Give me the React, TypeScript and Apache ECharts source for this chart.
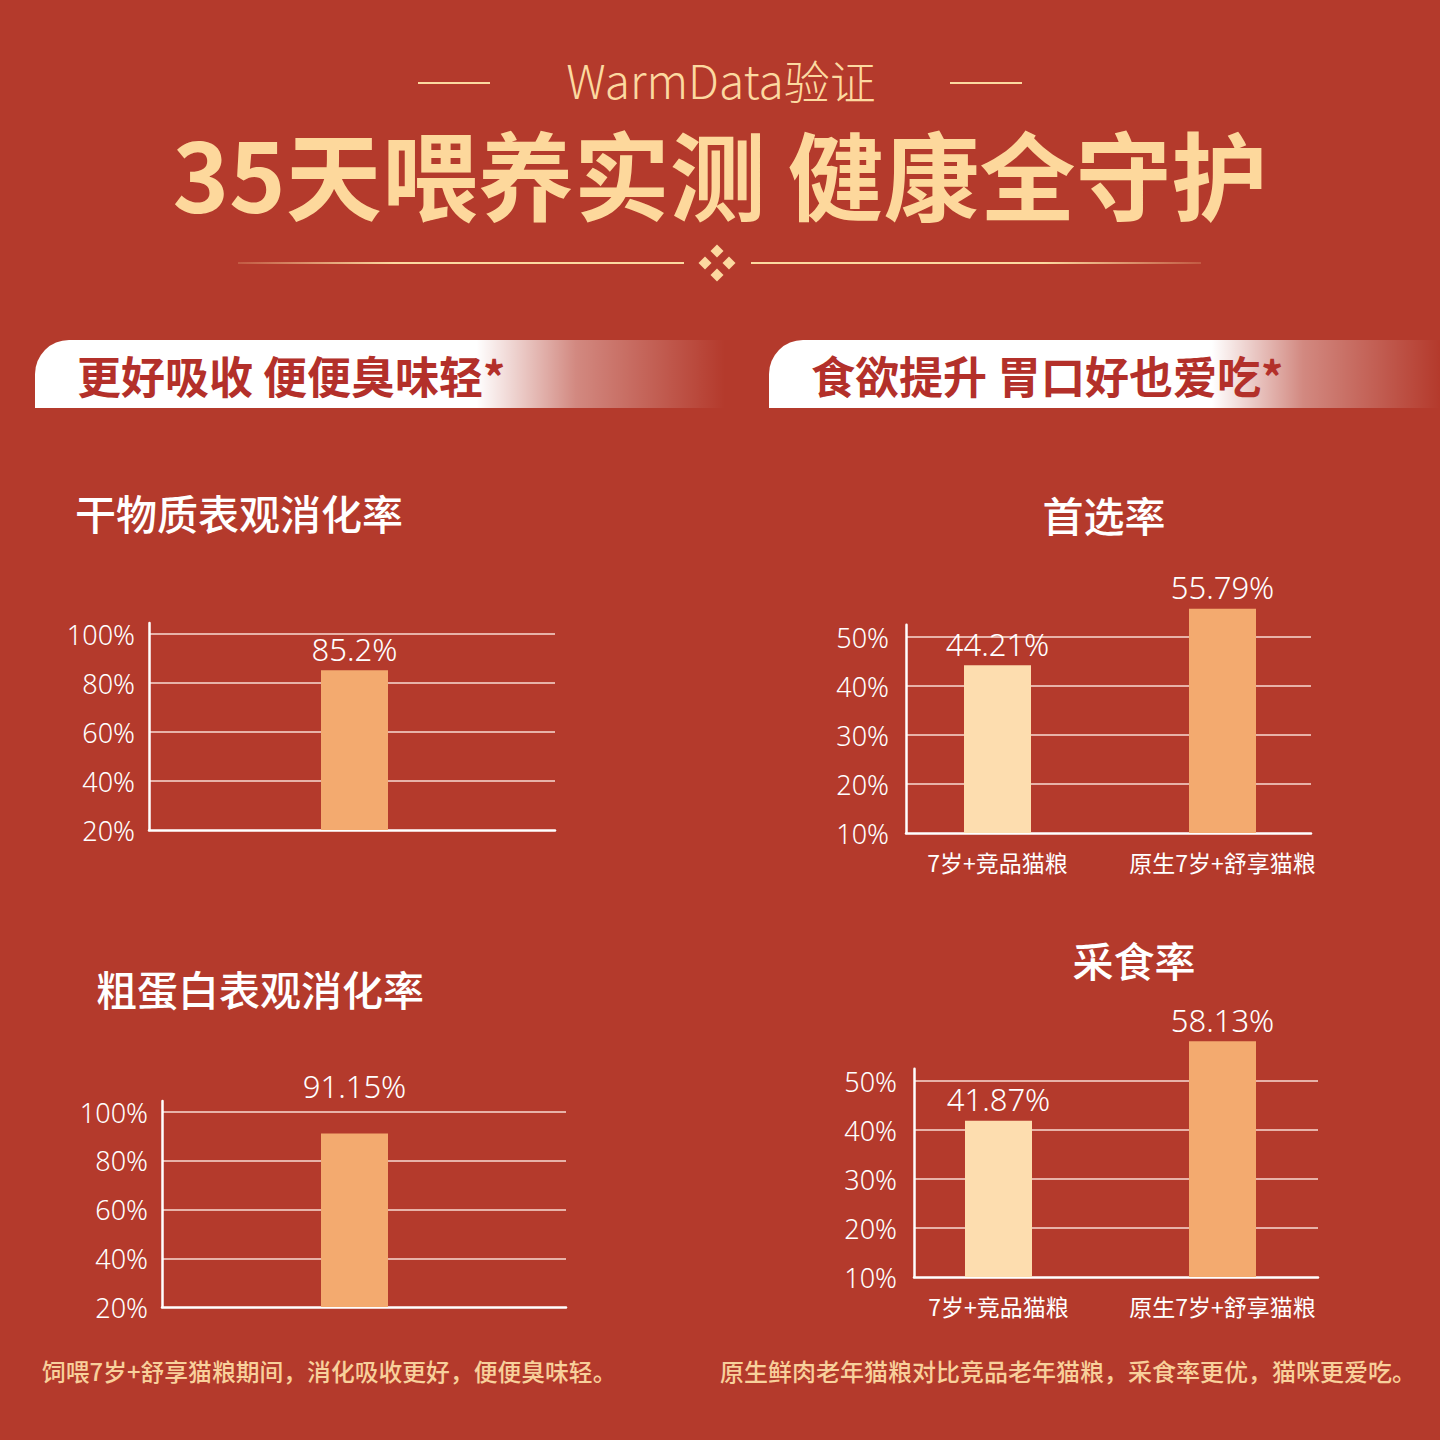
import React, { useEffect, useRef } from "react";
import * as echarts from "echarts";

// ---------- texts ----------
const headerSub = "WarmData验证";
const headerTitle = "35天喂养实测 健康全守护";
const bannerLeft = "更好吸收 便便臭味轻*";
const bannerRight = "食欲提升 胃口好也爱吃*";
const footerLeft = "饲喂7岁+舒享猫粮期间，消化吸收更好，便便臭味轻。";
const footerRight = "原生鲜肉老年猫粮对比竞品老年猫粮，采食率更优，猫咪更爱吃。";

// ---------- data ----------
const dryTitle = "干物质表观消化率";
const proteinTitle = "粗蛋白表观消化率";
const digestCategories = ["原生7岁+舒享猫粮"];
const dryValues = [85.2];
const proteinValues = [91.15];
const digestTicks = [20, 40, 60, 80, 100];

const prefTitle = "首选率";
const intakeTitle = "采食率";
const compareCategories = ["7岁+竞品猫粮", "原生7岁+舒享猫粮"];
const prefValues = [44.21, 55.79];
const intakeValues = [41.87, 58.13];
const compareTicks = [10, 20, 30, 40, 50];

// ---------- styles ----------
const BG = "#B43A2C";
const CREAM = "#FCD9A0";
const ORANGE = "#F3AA6F";
const LIGHT = "#FDDDAF";
const CJK = '"Noto Sans CJK SC", "Noto Sans", sans-serif';
const NUM = '"Noto Sans", "Noto Sans CJK SC", sans-serif';

type Panel = {
  title: string;
  titleX: number;
  titleY: number;
  titleAlign: "left" | "center";
  categories: string[];
  values: number[];
  ticks: number[];
  headroom: number;
  colors: string[];
  axisX: number;
  endX: number;
  bottomY: number;
  topTickY: number;
  barLeft: number;
  barWidthArea: number;
  showCats: boolean;
  labelOffsetY: number;
  labelMargin: number;
};

const panels: Panel[] = [
  {
    title: dryTitle, titleX: 75, titleY: 512, titleAlign: "left",
    categories: digestCategories, values: dryValues, ticks: digestTicks, headroom: 4.5,
    colors: [ORANGE],
    axisX: 149, endX: 555, bottomY: 830, topTickY: 634,
    barLeft: 149, barWidthArea: 411, showCats: false, labelOffsetY: 0, labelMargin: 14,
  },
  {
    title: proteinTitle, titleX: 96, titleY: 988, titleAlign: "left",
    categories: digestCategories, values: proteinValues, ticks: digestTicks, headroom: 4.5,
    colors: [ORANGE],
    axisX: 162, endX: 566, bottomY: 1307, topTickY: 1112,
    barLeft: 162, barWidthArea: 385, showCats: false, labelOffsetY: -26, labelMargin: 14,
  },
  {
    title: prefTitle, titleX: 1104, titleY: 514, titleAlign: "center",
    categories: compareCategories, values: prefValues, ticks: compareTicks, headroom: 2.5,
    colors: [LIGHT, ORANGE],
    axisX: 906, endX: 1311, bottomY: 833, topTickY: 637,
    barLeft: 885, barWidthArea: 450, showCats: true, labelOffsetY: 0, labelMargin: 17,
  },
  {
    title: intakeTitle, titleX: 1134, titleY: 959, titleAlign: "center",
    categories: compareCategories, values: intakeValues, ticks: compareTicks, headroom: 2.5,
    colors: [LIGHT, ORANGE],
    axisX: 914, endX: 1318, bottomY: 1277, topTickY: 1081,
    barLeft: 886.5, barWidthArea: 448, showCats: true, labelOffsetY: 0, labelMargin: 17,
  },
];

function buildOption() {
  const grid: any[] = [];
  const xAxis: any[] = [];
  const yAxis: any[] = [];
  const series: any[] = [];
  const graphic: any[] = [];

  const txt = (text: string, x: number, y: number, size: number, fill: string, weight: any, align = "left", family = CJK) => ({
    type: "text",
    x,
    y,
    silent: true,
    style: {
      text,
      fill,
      fontSize: size,
      fontWeight: weight,
      fontFamily: family,
      align,
      textAlign: align,
      verticalAlign: "middle",
      textVerticalAlign: "middle",
    },
  });

  // header
  graphic.push({ type: "rect", shape: { x: 418, y: 82, width: 72, height: 2 }, style: { fill: CREAM }, silent: true });
  graphic.push({ type: "rect", shape: { x: 950, y: 82, width: 72, height: 2 }, style: { fill: CREAM }, silent: true });
  graphic.push(txt(headerSub, 721, 79, 46, CREAM, 300, "center"));
  graphic.push(txt(headerTitle, 720, 171, 96, "#FDD89C", 700, "center"));

  // divider
  graphic.push({
    type: "rect", shape: { x: 238, y: 262, width: 446, height: 2 }, silent: true,
    style: { fill: { type: "linear", x: 0, y: 0, x2: 1, y2: 0, colorStops: [{ offset: 0, color: "rgba(252,217,160,0.2)" }, { offset: 0.35, color: CREAM }, { offset: 1, color: CREAM }] } },
  });
  graphic.push({
    type: "rect", shape: { x: 751, y: 262, width: 450, height: 2 }, silent: true,
    style: { fill: { type: "linear", x: 0, y: 0, x2: 1, y2: 0, colorStops: [{ offset: 0, color: CREAM }, { offset: 0.65, color: CREAM }, { offset: 1, color: "rgba(252,217,160,0.2)" }] } },
  });
  const dia = (cx: number, cy: number, r: number) => ({
    type: "polygon", silent: true,
    shape: { points: [[cx, cy - r], [cx + r, cy], [cx, cy + r], [cx - r, cy]] },
    style: { fill: CREAM },
  });
  graphic.push(dia(717, 251, 6.5), dia(705, 263, 6.5), dia(729, 263, 6.5), dia(717, 275, 6.5));

  // banners
  const banner = (x: number, w: number, solidTo: number) => ({
    type: "rect", silent: true,
    shape: { x, y: 340, width: w, height: 68, r: [34, 0, 0, 0] },
    style: {
      fill: {
        type: "linear", x: 0, y: 0, x2: 1, y2: 0,
        colorStops: [
          { offset: 0, color: "#FFFFFF" },
          { offset: solidTo, color: "#FFFFFF" },
          { offset: solidTo + (1 - solidTo) * 0.4, color: "rgba(255,255,255,0.4)" },
          { offset: 1, color: "rgba(255,255,255,0)" },
        ],
      },
    },
  });
  graphic.push(banner(35, 690, 0.64));
  graphic.push(banner(769, 671, 0.66));
  graphic.push(txt(bannerLeft, 77, 375, 44, "#B3302A", 700));
  graphic.push(txt(bannerRight, 811, 375, 44, "#B3302A", 700));

  // footers
  graphic.push(txt(footerLeft, 42, 1370, 23.8, "#F8D09B", 500));
  graphic.push(txt(footerRight, 720, 1370, 24, "#F8D09B", 500));

  panels.forEach((p, i) => {
    const min = p.ticks[0];
    const interval = p.ticks[1] - p.ticks[0];
    const lastTick = p.ticks[p.ticks.length - 1];
    const max = lastTick + p.headroom;
    const maxB = lastTick + 2 * interval;
    const pxPerUnit = (p.bottomY - p.topTickY) / (lastTick - min);
    const top = p.bottomY - (max - min) * pxPerUnit;
    const topB = p.bottomY - (maxB - min) * pxPerUnit;

    graphic.push(txt(p.title, p.titleX, p.titleY, 41, "#FFFFFF", 500, p.titleAlign));

    const a = i * 2;
    const b = i * 2 + 1;
    grid.push({ left: p.axisX, top, width: p.endX - p.axisX, height: p.bottomY - top, containLabel: false });
    grid.push({ left: p.barLeft, top: topB, width: p.barWidthArea, height: p.bottomY - topB, containLabel: false });

    xAxis.push({
      type: "category", gridIndex: a, data: p.categories,
      axisLine: { show: true, lineStyle: { color: "#FFFFFF", width: 2.5 } },
      axisTick: { show: false }, axisLabel: { show: false }, splitLine: { show: false },
    });
    xAxis.push({
      type: "category", gridIndex: b, data: p.categories,
      axisLine: { show: false }, axisTick: { show: false },
      axisLabel: {
        show: p.showCats, interval: 0, hideOverlap: false,
        color: "#FFFFFF", fontSize: 23, fontWeight: 400, fontFamily: CJK, margin: 17,
      },
      splitLine: { show: false },
    });
    yAxis.push({
      type: "value", gridIndex: a, min, max, interval,
      axisLine: { show: true, lineStyle: { color: "#FFFFFF", width: 2.5 } },
      axisTick: { show: false },
      axisLabel: {
        color: "#FFFFFF", fontSize: 27, fontWeight: 300, fontFamily: NUM, margin: p.labelMargin,
        showMaxLabel: false,
        formatter: (v: number) => `${v}%`,
      },
      splitLine: {
        show: true, showMinLine: false, showMaxLine: false,
        lineStyle: { color: "rgba(255,236,228,0.9)", width: 1.5 },
      },
    });
    yAxis.push({ type: "value", gridIndex: b, min, max: maxB, show: false, splitLine: { show: false } });

    series.push({
      type: "bar",
      xAxisIndex: b,
      yAxisIndex: b,
      barWidth: 67,
      data: p.values.map((v, j) => ({ value: v, itemStyle: { color: p.colors[j % p.colors.length] } })),
      label: {
        show: true, position: "top", distance: 6, offset: [0, p.labelOffsetY],
        color: "#FFFFFF", fontSize: 31, fontWeight: 300, fontFamily: NUM,
        formatter: (q: any) => `${q.value}%`,
      },
    });
  });

  return {
    animation: false,
    backgroundColor: BG,
    grid, xAxis, yAxis, series, graphic,
  };
}

export default function App() {
  const ref = useRef<HTMLDivElement>(null);
  useEffect(() => {
    document.body.style.margin = "0";
    if (!ref.current) return;
    const chart = echarts.init(ref.current, undefined, { renderer: "svg", width: 1440, height: 1440 });
    chart.setOption(buildOption() as any);
    return () => chart.dispose();
  }, []);
  return <div ref={ref} style={{ width: 1440, height: 1440 }} />;
}
